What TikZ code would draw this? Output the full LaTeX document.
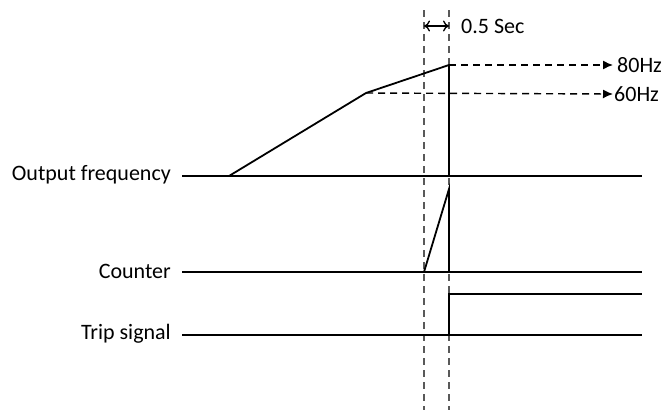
\documentclass[tikz,border=0pt]{standalone}
\usepackage{fontspec}
\setmainfont{Carlito}
\usetikzlibrary{arrows.meta}
\begin{document}
\begin{tikzpicture}[x=1pt,y=-1pt,
  sig/.style={line width=1.8pt,black},
  guide/.style={line width=1.4pt,gray!70!black,dash pattern=on 7pt off 5pt},
  level/.style={line width=1.4pt,black,dash pattern=on 7pt off 5pt,-{Latex[length=10pt,width=9pt]}},
  lbl/.style={font=\fontsize{22}{26}\selectfont,inner sep=0pt},
  every node/.style={inner sep=0pt}]
\useasboundingbox (0,0) rectangle (666,410);
% coordinates
\coordinate (ofL) at (182,176); \coordinate (ofR) at (642,176);
\coordinate (rs) at (229,176); \coordinate (knee) at (366,93); \coordinate (top) at (449,65);
\coordinate (ofT) at (449,176);
\coordinate (cL) at (182,272); \coordinate (cR) at (642,272);
\coordinate (c0) at (424,272); \coordinate (c1) at (449,189); \coordinate (c2) at (449,272);
\coordinate (tL) at (182,335); \coordinate (tR) at (642,335);
\coordinate (t0) at (449,335); \coordinate (t1) at (449,294); \coordinate (t2) at (642,294);
\coordinate (g1t) at (424,10); \coordinate (g1b) at (424,410);
\coordinate (g2t) at (449,10); \coordinate (g2b) at (449,410);
\coordinate (a1) at (424,26); \coordinate (a2) at (449,26);
\coordinate (e80) at (613,65); \coordinate (e60) at (613,94);
% labels
\node[lbl,anchor=east] (lof) at (171,175) {Output frequency};
\node[lbl,anchor=east] (lc) at (171,271) {Counter};
\node[lbl,anchor=east] (lt) at (171,334) {Trip signal};
\node[lbl,anchor=west] (h80) at (617,65) {80Hz};
\node[lbl,anchor=west] (h60) at (614,94) {60Hz};
\node[lbl,anchor=west] (sec) at (461,26) {0.5 Sec};
% guides
\draw[guide] (g1t) -- (g1b);
\draw[guide] (g2t) -- (g2b);
\draw[line width=1.3pt,{To[length=6pt,width=11pt]}-{To[length=6pt,width=11pt]}] (a1) -- (a2);
% levels
\draw[level] (top) -- (e80);
\draw[level] (knee) -- (e60);
% signals
\draw[sig] (ofL) -- (ofR);
\draw[sig,line join=round] (rs) -- (knee) -- (top) -- (ofT);
\draw[sig] (cL) -- (cR);
\draw[sig] (c0) -- (c1) -- (c2);
\draw[sig] (tL) -- (tR);
\draw[sig] (t0) -- (t1) -- (t2);
\end{tikzpicture}
\end{document}
